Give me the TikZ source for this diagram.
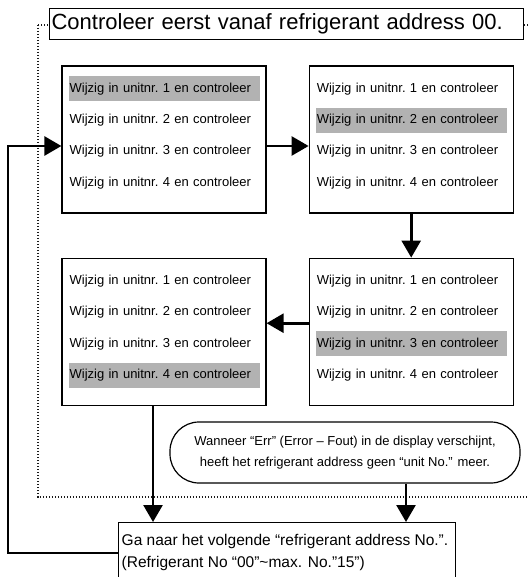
\documentclass[tikz,border=0pt]{standalone}
\usepackage{fontspec}
\setmainfont{Liberation Sans}
\usetikzlibrary{positioning,arrows.meta}
\definecolor{hlgray}{RGB}{178,178,178}
\newcommand{\rowtext}[1]{Wijzig in unitnr.\ #1 en controleer}

\begin{document}
\begin{tikzpicture}[x=1pt,y=-1pt,node distance=42pt,
  unitbox/.style={draw,line width=1.2pt,minimum width=204pt,minimum height=147pt,inner sep=0pt},
  row/.style={anchor=west,align=left,text width=189pt,inner xsep=1pt,inner ysep=0pt,minimum height=25pt,font=\fontsize{13}{15}\selectfont},
  hl/.style={fill=hlgray},
  flow/.style={line width=2.6pt,-{Triangle[length=17pt,width=19pt]}},
  frame/.style={line width=1.1pt,dash pattern=on 1.1pt off 1.9pt,black!90},
  titlebox/.style={draw,fill=white,line width=1.2pt,anchor=north west,align=left,text width=470pt,inner xsep=2pt,minimum height=31pt,font=\fontsize{22}{26}\selectfont},
  note/.style={draw,fill=white,line width=1.2pt,rounded corners=29pt,minimum width=350pt,minimum height=61pt,align=center,font=\fontsize{13}{21}\selectfont},
  nextbox/.style={draw,fill=white,line width=1.2pt,anchor=north west,minimum width=337pt,minimum height=80pt},
  nexttext/.style={anchor=north west,align=left,inner sep=0pt,font=\fontsize{15.5}{22}\selectfont}]
  \useasboundingbox (0,0) rectangle (528,577);
  \clip (0,0) rectangle (528,577);

  \coordinate (ftl) at (38,25);
  \coordinate (fbr) at (540,497);
  \draw[frame] (ftl) rectangle (fbr);

  \node[titlebox] (title) at (49,8) {Controleer eerst vanaf refrigerant address 00.};

  \node[unitbox] (b1) at (164,139.5) {};
  \node[unitbox,right=of b1] (b2) {};
  \node[unitbox,below=44pt of b1] (b3) {};
  \node[unitbox,right=of b3] (b4) {};

  \foreach \b/\h in {b1/1,b2/2,b3/4,b4/3}
    \foreach \r in {1,...,4}{
      \ifnum\r=\h \def\rs{hl}\else\def\rs{}\fi
      \node[row,\rs] (\b r\r) at ([xshift=7pt,yshift={-(23.5+31.3*(\r-1))*1pt}]\b.north west) {\rowtext{\r}};
    }

  \node[note] (note) at (345,452.5) {Wanneer “Err” (Error – Fout) in de display verschijnt,\\heeft het refrigerant address geen “unit No.” meer.};

  \node[nextbox] (next) at (118,522) {};
  \node[nexttext] (nexttxt) at ([xshift=3.5pt,yshift=-12pt]next.north west) {Ga naar het volgende “refrigerant address No.”.\\(Refrigerant No “00”\textasciitilde max. No.”15”)};

  \draw[flow] ([yshift=-6.5pt]b1.east) -- ([yshift=-6.5pt]b2.west);
  \draw[flow] (b2.south) -- (b4.north);
  \draw[flow] ([yshift=8.5pt]b4.west) -- ([yshift=8.5pt]b3.east);
  \draw[flow] ([xshift=-11pt]b3.south) -- ([xshift=-11pt]b3.south |- next.north);
  \draw[flow] ([xshift=61pt]note.south) -- ([xshift=61pt]note.south |- next.north);
  \coordinate (back) at (8,553);
  \draw[flow] ([yshift=-31pt]next.north west) -- (back) |- ([yshift=-6.5pt]b1.west);
\end{tikzpicture}
\end{document}
